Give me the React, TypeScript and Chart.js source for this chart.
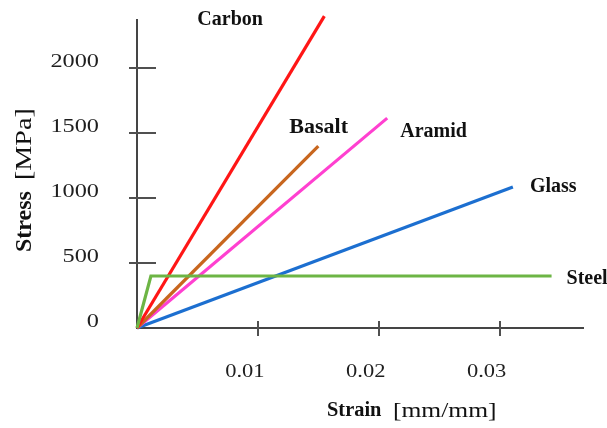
import React, { useEffect, useRef } from "react";
import { Chart, registerables } from "chart.js";

Chart.register(...registerables);

// ---- data ----
const seriesNames = ["Steel", "Carbon", "Basalt", "Aramid", "Glass"];
const steelStrain = [0, 0.00115, 0.0343];
const steelStress = [0, 400, 400];
const carbonStrain = [0, 0.0155];
const carbonStress = [0, 2400];
const basaltStrain = [0, 0.015];
const basaltStress = [0, 1400];
const aramidStrain = [0, 0.0207];
const aramidStress = [0, 1615];
const glassStrain = [0, 0.0311];
const glassStress = [0, 1085];

const xTickValues = [0.01, 0.02, 0.03];
const xTickLabels = ["0.01", "0.02", "0.03"];
const yTickValues = [0, 500, 1000, 1500, 2000];
const yTickLabels = ["0", "500", "1000", "1500", "2000"];

const xTitleBold = "Strain";
const xTitleRest = "[mm/mm]";
const yTitleBold = "Stress";
const yTitleRest = "[MPa]";

// ---- styles ----
const seriesColors = ["#6db545", "#ff1616", "#c8661e", "#ff40d0", "#1c6fd0"];
// label placement relative to each series' last point: [dx, dy, fontSize]
const labelLayout: Record<string, [number, number, number]> = {
  Steel: [15, 3, 20],
  Carbon: [-127, 4, 20],
  Basalt: [-29, -19, 22],
  Aramid: [13, 14, 20],
  Glass: [17, 0, 20],
};
const SERIF = "'Liberation Serif', 'Times New Roman', serif";

const zip = (xs: number[], ys: number[]) => xs.map((x, i) => ({ x, y: ys[i] }));
const seriesData = [
  zip(steelStrain, steelStress),
  zip(carbonStrain, carbonStress),
  zip(basaltStrain, basaltStress),
  zip(aramidStrain, aramidStress),
  zip(glassStrain, glassStress),
];

function drawText(
  ctx: CanvasRenderingContext2D,
  text: string,
  x: number,
  y: number,
  font: string,
  align: CanvasTextAlign,
  sx: number,
  color: string
) {
  ctx.save();
  ctx.translate(x, y);
  ctx.scale(sx, 1);
  ctx.font = font;
  ctx.textAlign = align;
  ctx.textBaseline = "middle";
  ctx.fillStyle = color;
  ctx.fillText(text, 0, 0);
  ctx.restore();
}

const textPlugin = {
  id: "customText",
  afterDraw(chart: any) {
    const ctx: CanvasRenderingContext2D = chart.ctx;
    const xs = chart.scales.x;
    const ys = chart.scales.y;
    const area = chart.chartArea;
    ctx.save();
    // tick marks
    ctx.strokeStyle = "#505050";
    ctx.lineWidth = 2;
    yTickValues.forEach((v) => {
      if (v === 0) return;
      const py = Math.round(ys.getPixelForValue(v));
      ctx.beginPath();
      ctx.moveTo(area.left - 8, py);
      ctx.lineTo(area.left + 19, py);
      ctx.stroke();
    });
    xTickValues.forEach((v) => {
      const px = Math.round(xs.getPixelForValue(v));
      ctx.beginPath();
      ctx.moveTo(px, area.bottom - 7);
      ctx.lineTo(px, area.bottom + 8);
      ctx.stroke();
    });
    // tick labels
    yTickValues.forEach((v, i) => {
      const py = ys.getPixelForValue(v);
      drawText(ctx, yTickLabels[i], area.left - 38, py - 6, `18px ${SERIF}`, "right", 1.35, "#1e1e1e");
    });
    xTickValues.forEach((v, i) => {
      const px = xs.getPixelForValue(v);
      drawText(ctx, xTickLabels[i], px - 13, area.bottom + 44, `18px ${SERIF}`, "center", 1.25, "#1e1e1e");
    });
    // axis titles
    drawText(ctx, xTitleBold, 327, 411, `bold 20px ${SERIF}`, "left", 1.02, "#111111");
    drawText(ctx, xTitleRest, 393, 411, `22px ${SERIF}`, "left", 1.16, "#111111");
    ctx.save();
    ctx.translate(25, 180);
    ctx.rotate(-Math.PI / 2);
    drawText(ctx, yTitleBold, -72, 0, `bold 24px ${SERIF}`, "left", 1, "#111111");
    drawText(ctx, yTitleRest, 0, 0, `24px ${SERIF}`, "left", 1.17, "#111111");
    ctx.restore();
    // series labels
    seriesNames.forEach((name, i) => {
      const pts = seriesData[i];
      const last = pts[pts.length - 1];
      const px = xs.getPixelForValue(last.x);
      const py = ys.getPixelForValue(last.y);
      const [dx, dy, fs] = labelLayout[name];
      drawText(ctx, name, px + dx, py + dy, `bold ${fs}px ${SERIF}`, "left", 1, "#111111");
    });
    ctx.restore();
  },
};

export default function App() {
  const canvasRef = useRef<HTMLCanvasElement | null>(null);

  useEffect(() => {
    document.body.style.margin = "0";
    const canvas = canvasRef.current;
    if (!canvas) return;
    const chart = new Chart(canvas, {
      type: "line",
      data: {
        datasets: seriesNames.map((name, i) => ({
          label: name,
          data: seriesData[i],
          borderColor: seriesColors[i],
          backgroundColor: seriesColors[i],
          borderWidth: 3.2,
          pointRadius: 0,
          pointHoverRadius: 0,
          tension: 0,
          fill: false,
          clip: false as any,
        })),
      },
      options: {
        animation: false,
        responsive: false,
        events: [],
        layout: { padding: { left: 0, top: 20, right: 24, bottom: 0 } },
        plugins: {
          legend: { display: false },
          tooltip: { enabled: false },
        },
        scales: {
          x: {
            type: "linear",
            min: 0,
            max: 0.0369,
            grid: { display: false },
            border: { display: true, color: "#454545", width: 2, dash: [4, 1] },
            ticks: { display: false },
            afterFit: (s: any) => {
              s.height = 100;
            },
          },
          y: {
            type: "linear",
            min: 0,
            max: 2370,
            grid: { display: false },
            border: { display: true, color: "#454545", width: 2 },
            ticks: { display: false },
            afterFit: (s: any) => {
              s.width = 137;
            },
          },
        },
      },
      plugins: [textPlugin],
    });
    return () => chart.destroy();
  }, []);

  return (
    <div style={{ width: 607, height: 428, background: "#ffffff" }}>
      <canvas ref={canvasRef} width={607} height={428} style={{ display: "block" }} />
    </div>
  );
}
